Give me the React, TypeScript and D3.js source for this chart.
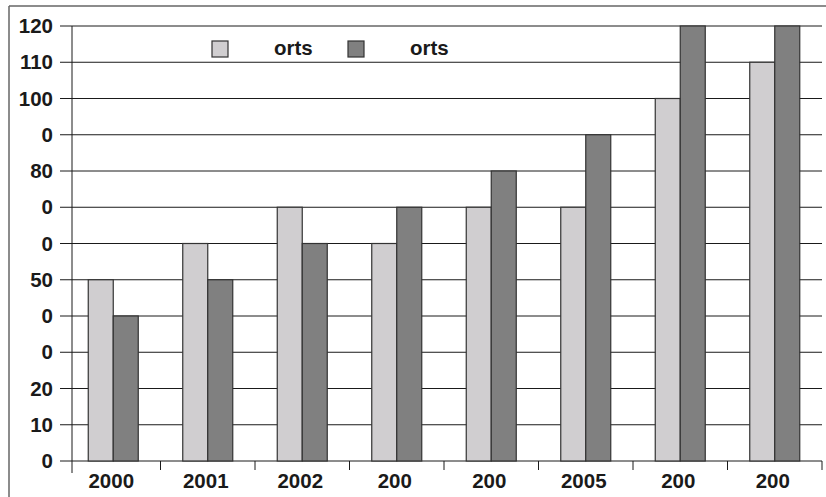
import React, { useRef, useEffect } from 'react';
import * as d3 from 'd3';

const categories = ['2000', '2001', '2002', '200', '200', '2005', '200', '200'];
const seriesNames = ['orts', 'orts'];
const lightValues = [50, 60, 70, 60, 70, 70, 100, 110];
const darkValues = [40, 50, 60, 70, 80, 90, 120, 120];
const yTickValues = [0, 10, 20, 30, 40, 50, 60, 70, 80, 90, 100, 110, 120];
const yTickLabels = ['0', '10', '20', '0', '0', '50', '0', '0', '80', '0', '100', '110', '120'];

const colors = ['#d0ced0', '#808080'];

const App = () => {
  const svgRef = useRef<SVGSVGElement>(null);

  useEffect(() => {
    const svg = d3.select(svgRef.current).attr('width', 826).attr('height', 497);
    svg.selectAll('*').remove();

    const font = '"Liberation Sans", Arial, sans-serif';
    const fs = 20.5;
    const axisX = 72;
    const top = 26;
    const bottom = 461;
    const right = 822;

    // outer frame
    svg.append('line').attr('x1', 9).attr('x2', 826).attr('y1', 6).attr('y2', 6)
      .attr('stroke', '#666').attr('stroke-width', 1.5);
    svg.append('line').attr('x1', 9).attr('x2', 9).attr('y1', 6).attr('y2', 497)
      .attr('stroke', '#666').attr('stroke-width', 1.5);

    const x = d3.scaleBand<number>()
      .domain(d3.range(categories.length))
      .range([66, right]);

    const y = d3.scaleLinear().domain([0, 120]).range([bottom, top]);

    // gridlines + y ticks
    const g = svg.append('g');
    yTickValues.forEach((v, i) => {
      g.append('line')
        .attr('x1', 60).attr('x2', right)
        .attr('y1', y(v)).attr('y2', y(v))
        .attr('stroke', '#1a1a1a').attr('stroke-width', 1);
      g.append('text')
        .attr('x', 53).attr('y', y(v) + 7)
        .attr('text-anchor', 'end')
        .attr('font-family', font).attr('font-weight', 'bold').attr('font-size', fs)
        .attr('fill', '#1a1a1a')
        .text(yTickLabels[i]);
    });

    // bars
    const barW = 25;
    categories.forEach((c, i) => {
      const cx = x(i)! + x.bandwidth() / 2;
      [lightValues[i], darkValues[i]].forEach((v, s) => {
        g.append('rect')
          .attr('x', cx - barW + s * barW)
          .attr('y', y(v))
          .attr('width', barW)
          .attr('height', y(0) - y(v))
          .attr('fill', colors[s])
          .attr('stroke', '#333')
          .attr('stroke-width', 1.2);
      });
      g.append('text')
        .attr('x', cx - 2).attr('y', 488)
        .attr('text-anchor', 'middle')
        .attr('font-family', font).attr('font-weight', 'bold').attr('font-size', fs)
        .attr('fill', '#1a1a1a')
        .text(c);
      // category boundary tick
      g.append('line')
        .attr('x1', x(i)! + x.bandwidth()).attr('x2', x(i)! + x.bandwidth())
        .attr('y1', bottom).attr('y2', 470)
        .attr('stroke', '#1a1a1a').attr('stroke-width', 1);
    });

    // y axis
    g.append('line').attr('x1', axisX).attr('x2', axisX).attr('y1', top).attr('y2', 473)
      .attr('stroke', '#1a1a1a').attr('stroke-width', 1);

    // legend
    const legendX = [212, 348];
    seriesNames.forEach((name, s) => {
      g.append('rect')
        .attr('x', legendX[s]).attr('y', 41).attr('width', 16).attr('height', 16)
        .attr('fill', colors[s]).attr('stroke', '#333').attr('stroke-width', 1.2);
      g.append('text')
        .attr('x', legendX[s] + 62).attr('y', 55)
        .attr('font-family', font).attr('font-weight', 'bold').attr('font-size', fs)
        .attr('fill', '#1a1a1a')
        .text(name);
    });
  }, []);

  return <svg ref={svgRef} style={{ position: 'absolute', left: 0, top: 0 }}></svg>;
};

export default App;
